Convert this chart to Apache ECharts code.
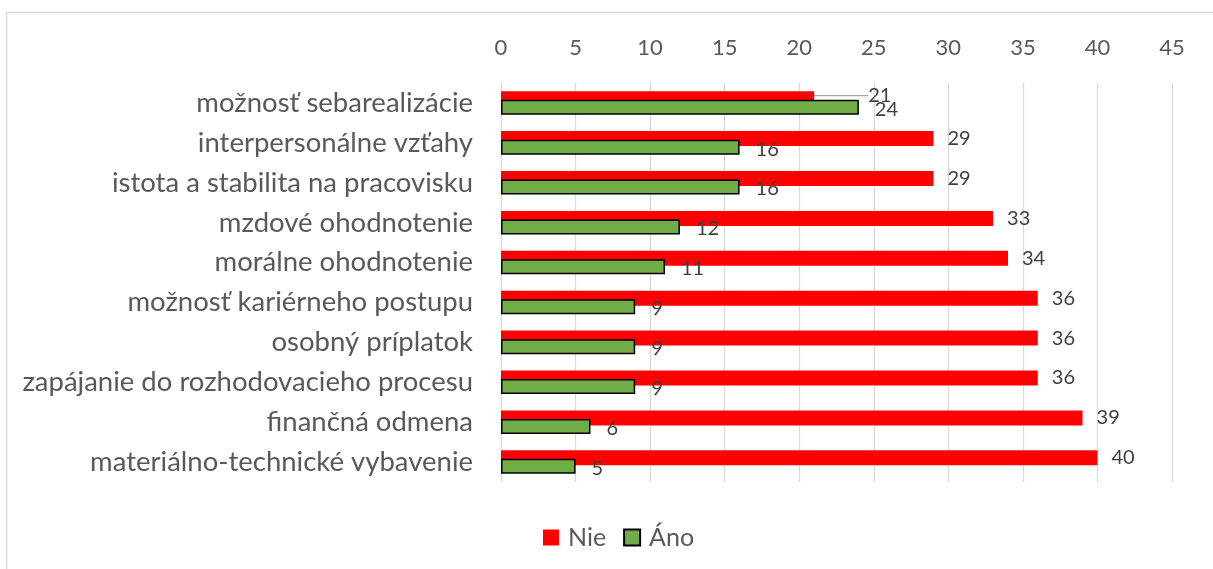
<!DOCTYPE html>
<html>
<head>
<meta charset="utf-8">
<script src="https://cdn.jsdelivr.net/npm/echarts@6/dist/echarts.min.js"></script>
<style>html,body{margin:0;padding:0;background:#fff;}#c{width:1213px;height:569px;}</style>
</head>
<body>
<div id="c"></div>
<script>
const categories = ['možnosť sebarealizácie','interpersonálne vzťahy','istota a stabilita na pracovisku','mzdové ohodnotenie','morálne ohodnotenie','možnosť kariérneho postupu','osobný príplatok','zapájanie do rozhodovacieho procesu','finančná odmena','materiálno-technické vybavenie'];
const nie = [21,29,29,33,34,36,36,36,39,40];
const ano = [24,16,16,12,11,9,9,9,6,5];
const xTicks = {min:0, max:45, interval:5};

const FONT = 'Lato';
const chart = echarts.init(document.getElementById('c'));
chart.setOption({
  animation:false,
  textStyle:{fontFamily:FONT},
  graphic:[{type:'rect',shape:{x:6.5,y:12.5,width:1400,height:800},style:{fill:'none',stroke:'#d9d9d9',lineWidth:1.5},silent:true}],
  grid:{left:501,right:41,top:83,bottom:87},
  legend:{left:538,top:520,itemWidth:16,itemHeight:16,itemGap:17,icon:'rect',
    textStyle:{fontFamily:FONT,fontSize:25,color:'#595959',padding:[0,0,0,4]},
    data:[{name:'Nie',itemStyle:{borderWidth:0}},{name:'Áno'}]},
  xAxis:{type:'value',position:'top',min:xTicks.min,max:xTicks.max,interval:xTicks.interval,
    axisLine:{show:false},axisTick:{show:false},
    axisLabel:{fontSize:22,color:'#595959',margin:24,fontFamily:FONT},
    splitLine:{lineStyle:{color:'#d9d9d9',width:1.3}}},
  yAxis:{type:'category',inverse:true,data:categories,
    axisLine:{show:false},axisTick:{show:false},
    axisLabel:{fontSize:27.5,color:'#595959',margin:28,fontFamily:FONT}},
  series:[
    {name:'Nie',type:'bar',data:nie.map((v,i)=>i===0?{value:v,labelLine:{show:true,lineStyle:{color:'#a6a6a6',width:1.3}}}:v),
     barWidth:15,barGap:'-43%',
     itemStyle:{color:'#ff0000'},
     label:{show:true,position:'right',distance:14,fontSize:20,color:'#404040',fontFamily:FONT},
     labelLayout:function(p){ if(p.dataIndex===0) return {dx:40,dy:-3}; return {}; }
    },
    {name:'Áno',type:'bar',data:ano,barWidth:15,
     itemStyle:{color:'#70ad47',borderColor:'#000',borderWidth:1.5},
     label:{show:true,position:'right',distance:16,offset:[0,2],fontSize:20,color:'#404040',fontFamily:FONT}
    }
  ]
});
</script>
</body>
</html>
